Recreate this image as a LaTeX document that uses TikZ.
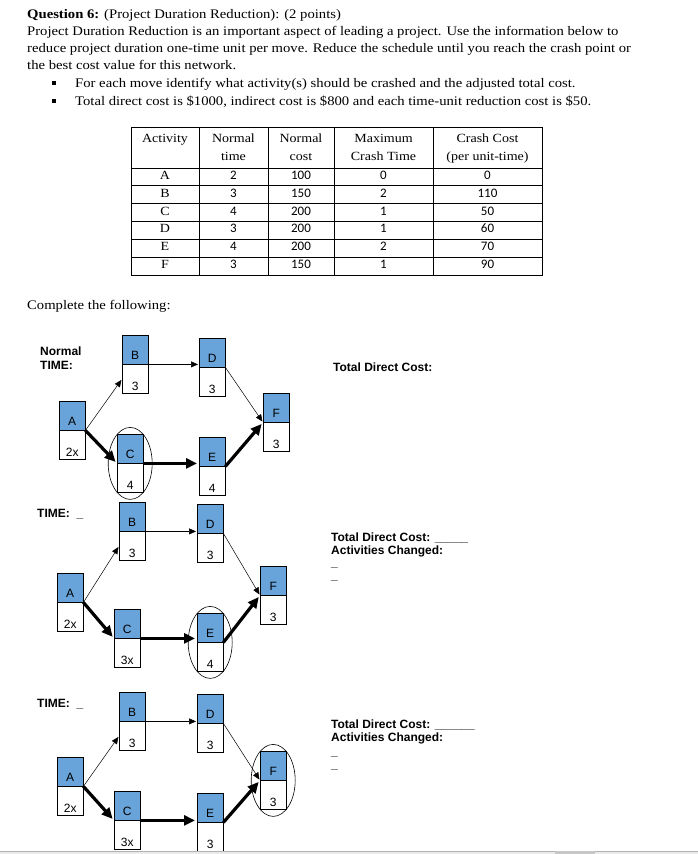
\documentclass[tikz,border=0pt]{standalone}
\usepackage{fontspec}
\setmainfont{Liberation Serif}[FakeStretch=1.12]
\setsansfont{Liberation Sans}
\newfontfamily\calib{Carlito}
\usetikzlibrary{arrows.meta,shapes.geometric}
\definecolor{actblue}{RGB}{104,163,217}
\definecolor{bargrey}{RGB}{234,234,234}

\tikzset{
  txt/.style={anchor=base west,inner sep=0pt,font=\fontsize{13.1}{15}\selectfont},
  cell/.style={anchor=base,inner sep=0pt,font=\fontsize{12.5}{15}\selectfont},
  numcell/.style={cell,font=\calib\fontsize{13}{15}\selectfont},
  dot/.style={fill=black,minimum size=4pt,inner sep=0pt},
  act/.style={draw,fill=actblue,anchor=north west,minimum width=26pt,inner sep=0pt,
    text height=24.5pt,text depth=4.5pt,font=\sffamily\fontsize{12}{12}\selectfont},
  dur/.style={draw,fill=white,anchor=north,minimum width=26pt,inner sep=0pt,
    text height=26pt,text depth=3pt,font=\sffamily\fontsize{12}{12}\selectfont},
  lbl/.style={anchor=base west,inner sep=0pt,font=\sffamily\bfseries\fontsize{12}{13}\selectfont},
  ring/.style={draw,ellipse,minimum width=44pt,minimum height=72pt,inner sep=0pt,line width=0.6pt},
  thinarr/.style={-{Triangle[length=7pt,width=6pt]},line width=0.5pt,shorten >=1pt},
  thickarr/.style={-{Triangle[length=11pt,width=10pt]},line width=3.2pt,shorten >=2pt}
}

\begin{document}
\begin{tikzpicture}[x=1pt,y=-1pt]
\useasboundingbox (0,0) rectangle (698,854);

% question text
\node[txt] (q1) at (27,18) {\textbf{Question 6:} (Project Duration Reduction): (2 points)};
\node[txt] (q2) at (27,35) {Project Duration Reduction is an important aspect of leading a project. Use the information below to};
\node[txt] (q3) at (27,52) {reduce project duration one-time unit per move. Reduce the schedule until you reach the crash point or};
\node[txt] (q4) at (27,69) {the best cost value for this network.};
\node[dot] (b1) at (53.5,83) {};
\node[txt] (q5) at (75,87) {For each move identify what activity(s) should be crashed and the adjusted total cost.};
\node[dot] (b2) at (53.5,101) {};
\node[txt] (q6) at (75,105) {Total direct cost is \$1000, indirect cost is \$800 and each time-unit reduction cost is \$50.};

% table
\draw[line width=0.8pt] (131,127) rectangle (542,275);
\foreach \x in {199,268,334,433}
  \draw[line width=0.8pt] (\x,127) -- (\x,275);
\foreach \i in {0,...,5}
  \draw[line width=0.8pt] (131,168+\i*17.83) -- (542,168+\i*17.83);
\node[cell] (h1) at (165,142) {Activity};
\node[cell] (h2) at (233.5,142) {Normal};
\node[cell] (h2b) at (233.5,160) {time};
\node[cell] (h3) at (301,142) {Normal};
\node[cell] (h3b) at (301,160) {cost};
\node[cell] (h4) at (383.5,142) {Maximum};
\node[cell] (h4b) at (383.5,160) {Crash Time};
\node[cell] (h5) at (487.5,142) {Crash Cost};
\node[cell] (h5b) at (487.5,160) {(per unit-time)};
\foreach \a/\nt/\nc/\mc/\cc [count=\r] in {A/2/100/0/0,B/3/150/2/110,C/4/200/1/50,
    D/3/200/1/60,E/4/200/2/70,F/3/150/1/90}{
  \pgfmathsetmacro{\y}{161.67+\r*17.83}
  \node[cell] (r\a) at (165,\y) {\a};
  \node[numcell] (nt\a) at (233.5,\y) {\nt};
  \node[numcell] (nc\a) at (301,\y) {\nc};
  \node[numcell] (mc\a) at (383.5,\y) {\mc};
  \node[numcell] (cc\a) at (487.5,\y) {\cc};
}

\node[txt] (cf) at (27,309) {Complete the following:};

% networks
\foreach \a/\x/\y/\t in {A/59/401/2x,B/122/335/3,C/117/434/4,D/199/338/3,E/199/437/4,F/263/393/3}{
  \node[act] (\a1) at (\x,\y) {\a};
  \node[dur] (t\a1) at (\a1.south) {\t};
}
\foreach \a/\x/\y/\t in {A/57/573/2x,B/119/502/3,C/114/609/3x,D/197/504/3,E/197/613/4,F/260/566/3}{
  \node[act] (\a2) at (\x,\y) {\a};
  \node[dur] (t\a2) at (\a2.south) {\t};
}
\foreach \a/\x/\y/\t in {A/57/757/2x,B/119/692/3,C/114/791/3x,D/197/694/3,E/197/793/3,F/260/751/3}{
  \node[act] (\a3) at (\x,\y) {\a};
  \node[dur] (t\a3) at (\a3.south) {\t};
}
\foreach \k in {1,2,3}{
  \draw[thinarr] (A\k.south east) -- (tB\k.west);
  \draw[thinarr] (B\k.south east) -- (B\k.south east -| D\k.west);
  \draw[thinarr] (D\k.south east) -- (F\k.south west);
  \draw[thickarr] (A\k.south east) -- (C\k.south west);
  \draw[thickarr] (C\k.south east) -- (C\k.south east -| E\k.west);
  \draw[thickarr] (E\k.south east) -- (F\k.south west);
}
\node[ring] (ring1) at (C1.south) {};
\node[ring] (ring2) at (E2.south) {};
\node[ring] (ring3) at (F3.south) {};

% labels
\node[lbl] (n1) at (40,355) {Normal};
\node[lbl] (n1b) at (40,369) {TIME:};
\node[lbl] (tdc1) at (333,371) {Total Direct Cost:};
\node[lbl] (n2) at (37,517) {TIME:\ \ \_};
\node[lbl] (tdc2) at (331,541) {Total Direct Cost: \_\_\_\_\_};
\node[lbl] (ac2) at (331,554) {Activities Changed:};
\node[lbl] (u2a) at (331,566) {\_};
\node[lbl] (u2b) at (331,579) {\_};
\node[lbl] (n3) at (37,707) {TIME:\ \ \_};
\node[lbl] (tdc3) at (331,728) {Total Direct Cost: \_\_\_\_\_\_};
\node[lbl] (ac3) at (331,741) {Activities Changed:};
\node[lbl] (u3a) at (331,755) {\_};
\node[lbl] (u3b) at (331,768) {\_};

% window edge
\fill[bargrey] (0,851) rectangle (698,854);
\draw[gray!60,line width=0.6pt] (0,851) -- (698,851);
\fill[gray!45] (555,851) rectangle (595,854);
\end{tikzpicture}
\end{document}
